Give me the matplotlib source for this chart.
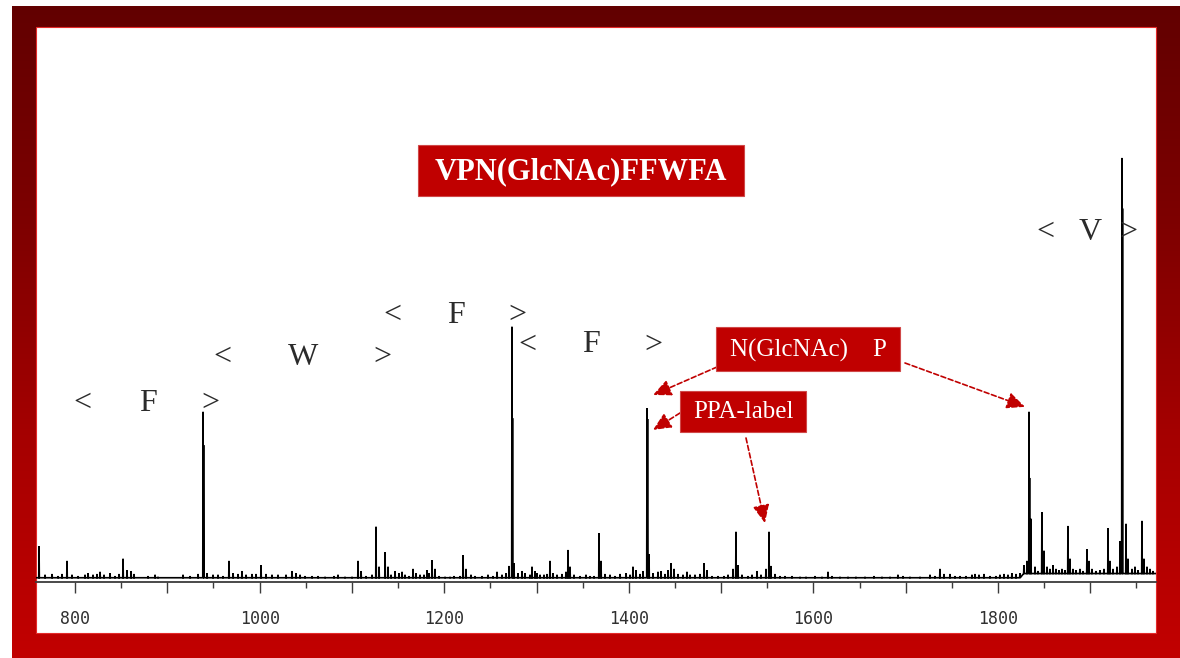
import numpy as np
import matplotlib
matplotlib.use("Agg")
import matplotlib.pyplot as plt
from matplotlib.patches import Rectangle
from matplotlib.colors import LinearSegmentedColormap
from matplotlib.ticker import MultipleLocator, FuncFormatter

# ---------------------------------------------------------------- data
# MALDI spectrum of the PPA-labelled glycopeptide: m/z and relative intensity (%)
peak_mz = [
    761.0, 767.5, 775.1, 781.6, 785.9, 791.3, 796.7, 803.3, 810.8, 814.1,
    819.5, 823.8, 827.1, 831.4, 837.9, 843.3, 847.7, 852.0, 856.3, 860.7,
    863.9, 879.1, 886.7, 889.9, 917.0, 924.6, 933.3, 938.7, 939.3, 943.0,
    949.5, 954.9, 960.3, 966.8, 971.2, 976.6, 980.9, 985.3, 991.8, 996.1,
    1001.5, 1006.9, 1013.4, 1019.9, 1028.6, 1035.1, 1039.4, 1043.8, 1049.2, 1056.8,
    1063.3, 1070.9,
    1080.6, 1084.9, 1092.5, 1100.1, 1106.6, 1109.9, 1115.3, 1121.8, 1126.1, 1129.4,
    1135.9, 1139.1, 1142.4, 1146.7, 1151.0, 1154.3, 1157.5, 1161.9, 1166.2, 1169.4,
    1173.8, 1178.1, 1181.4, 1183.5, 1186.8, 1190.0, 1194.4, 1200.9, 1206.3, 1210.6,
    1217.1, 1220.4, 1223.6, 1229.0, 1233.4, 1240.9, 1247.4, 1252.9, 1257.2, 1262.6,
    1266.9, 1270.2, 1273.4, 1274.0, 1275.6, 1279.9, 1284.3, 1287.5, 1292.9, 1295.1,
    1298.4, 1300.5, 1303.8, 1308.1, 1311.4, 1314.6, 1317.9, 1322.2, 1327.6, 1331.9,
    1334.1, 1336.3, 1340.6, 1347.1, 1353.6, 1357.9, 1362.3, 1367.7, 1369.9, 1374.2,
    1379.6, 1385.0, 1390.5, 1397.0,
    1401.3, 1404.5, 1407.8, 1412.1, 1415.4, 1419.7, 1420.3, 1421.9, 1426.2, 1431.6,
    1434.9, 1439.2, 1442.5, 1445.7, 1449.0, 1453.3, 1458.7, 1463.0, 1466.3, 1471.7,
    1477.1, 1481.5, 1484.7, 1490.1, 1496.6, 1503.1, 1507.5, 1512.9, 1516.1, 1518.3,
    1522.6, 1529.1, 1533.5, 1538.9, 1543.2, 1548.6, 1551.9, 1554.0, 1558.4, 1563.8,
    1569.2, 1576.8, 1585.5, 1592.0, 1601.7, 1609.3, 1615.8, 1620.1, 1628.8, 1637.5,
    1646.1, 1655.9, 1665.6, 1674.3, 1683.0, 1691.6, 1697.1, 1704.6, 1715.5, 1726.3,
    1731.7, 1737.1, 1741.5, 1748.0, 1753.4, 1758.8, 1765.3, 1771.8, 1775.1, 1779.4,
    1784.8, 1791.3, 1797.8, 1802.1, 1806.5, 1810.8, 1815.1, 1819.5, 1823.8,
    1828.1, 1831.4, 1833.6, 1834.2, 1835.7, 1840.1, 1843.3, 1847.6, 1849.8, 1853.1,
    1856.3, 1859.6, 1862.8, 1866.1, 1869.3, 1872.6, 1875.8, 1878.0, 1881.2, 1884.5,
    1888.8, 1892.1, 1896.4, 1898.6, 1901.8, 1906.1, 1910.5, 1914.8, 1919.2, 1921.3,
    1924.6, 1928.9, 1932.2, 1934.3, 1934.9, 1938.7, 1940.8, 1945.2, 1948.4, 1951.7,
    1956.0, 1958.1, 1961.4, 1964.7, 1967.9,
]
peak_int = [
    7.8, 1.0, 1.2, 0.7, 1.2, 4.3, 1.0, 0.7, 1.0, 1.4,
    1.0, 1.2, 1.7, 1.0, 1.4, 0.7, 1.2, 4.8, 2.1, 1.9,
    1.2, 0.7, 1.0, 0.5, 1.0, 0.7, 1.2, 39.7, 31.8, 1.4,
    1.0, 1.0, 0.7, 4.3, 1.4, 1.2, 1.9, 1.0, 1.2, 1.2,
    3.3, 1.2, 1.0, 1.0, 1.0, 1.9, 1.4, 1.0, 0.7, 0.7,
    0.7, 0.5,
    0.7, 1.0, 0.5, 0.5, 4.3, 1.9, 0.7, 1.0, 12.4, 2.9,
    6.4, 2.9, 1.0, 1.9, 1.4, 1.7, 1.0, 0.7, 2.4, 1.4,
    1.0, 1.0, 2.1, 1.4, 4.5, 2.4, 0.7, 0.5, 0.5, 0.7,
    0.7, 5.7, 2.4, 1.0, 0.7, 0.7, 1.0, 0.7, 1.7, 1.0,
    1.4, 3.1, 59.9, 38.2, 3.8, 1.4, 1.9, 1.4, 1.0, 2.9,
    1.9, 1.4, 1.0, 1.0, 1.2, 4.3, 1.4, 1.0, 1.2, 1.7,
    6.9, 2.9, 1.0, 0.7, 1.0, 0.7, 0.7, 10.9, 4.3, 1.2,
    1.0, 0.7, 1.2, 1.4,
    1.0, 2.9, 2.1, 1.2, 1.9, 40.6, 38.0, 5.9, 1.4, 1.7,
    1.9, 1.2, 2.1, 3.8, 2.4, 1.2, 1.0, 1.7, 1.0, 1.0,
    1.2, 3.8, 2.1, 0.7, 0.7, 0.7, 1.0, 2.4, 11.2, 3.3,
    1.0, 0.7, 1.0, 1.9, 1.0, 2.4, 11.2, 3.1, 1.2, 0.7,
    0.7, 0.7, 0.5, 0.5, 0.7, 0.5, 1.7, 0.7, 0.5, 0.5,
    0.5, 0.5, 0.7, 0.5, 0.5, 1.0, 0.7, 0.5, 0.5, 1.0,
    0.7, 2.4, 1.2, 1.2, 0.7, 0.7, 0.7, 1.0, 1.2, 1.0,
    1.2, 0.7, 0.7, 1.0, 1.2, 1.0, 1.4, 1.2, 1.4,
    3.3, 4.3, 39.7, 24.0, 14.3, 2.9, 1.9, 15.9, 6.7, 2.9,
    2.4, 3.3, 2.4, 2.1, 2.4, 2.1, 12.6, 4.8, 2.4, 2.1,
    2.4, 1.9, 7.1, 4.3, 2.4, 1.9, 2.1, 2.4, 12.1, 4.3,
    2.4, 2.9, 9.0, 100.0, 88.0, 13.1, 4.8, 2.4, 2.9, 2.1,
    13.8, 4.8, 2.9, 2.4, 1.9,
]

# chemical-noise baseline: level (%) on each m/z segment
baseline_edges = [757.7, 1825.0, 1971.2]
baseline_levels = [0.3, 1.3]

# labelled ticks on the m/z axis
tick_labels_mz = [800, 1000, 1200, 1400, 1600, 1800]

# residue ladder marks between fragment peaks
residue_text = ['<', 'F', '>', '<', 'W', '>', '<', 'F', '>',
                '<', 'F', '>', '<', 'V', '>']
residue_mz = [807.6, 879.1, 946.3, 959.3, 1047.0, 1132.6, 1143.4, 1212.8, 1278.9,
              1289.7, 1359.0, 1426.2, 1850.9, 1899.7, 1940.8]
residue_int = [41.6, 41.6, 41.6, 52.7, 52.7, 52.7, 62.5, 62.5, 62.5,
               55.6, 55.6, 55.6, 82.4, 82.4, 82.4]

# annotated peaks (m/z, intensity at the arrow tip)
arrow_mz = [1426.2, 1426.2, 1829.2, 1547.5]
arrow_int = [43.7, 35.4, 40.9, 13.3]

title_text = 'VPN(GlcNAc)FFWFA'
fragment_text = 'N(GlcNAc)    P'
label_text = 'PPA-label'

# ---------------------------------------------------------------- figure
W, H = 1180, 658
RED = '#c00000'
fig = plt.figure(figsize=(W / 100, H / 100), dpi=100)
fig.patch.set_facecolor('white')

# gradient frame behind the white panel
bg = fig.add_axes([0, 0, 1, 1], zorder=0)
bg.set_xlim(0, W)
bg.set_ylim(H, 0)
bg.axis('off')
frame_cmap = LinearSegmentedColormap.from_list(
    'frame', ['#620000', '#7e0000', '#a60000', '#c20000'])
bg.imshow(np.linspace(0, 1, 256)[:, None], aspect='auto', cmap=frame_cmap,
          extent=(12, W, H, 6), interpolation='bilinear')
bg.add_patch(Rectangle((36, 27), 1120, 606, facecolor='white',
                       edgecolor='#e42a2a', lw=0.8))

# spectrum axes
ax = fig.add_axes([36 / W, 76 / H, 1120 / W, 555 / H], zorder=1)
ax.patch.set_alpha(0)
ax.set_xlim(757.7, 1971.2)
ax.set_ylim(-0.71, 131.1)
for side in ('top', 'left', 'right'):
    ax.spines[side].set_visible(False)
ax.spines['bottom'].set_color('#3c3c3c')
ax.spines['bottom'].set_linewidth(1.3)
ax.set_yticks([])
ax.xaxis.set_major_locator(MultipleLocator(100))
ax.xaxis.set_minor_locator(MultipleLocator(50))
ax.xaxis.set_major_formatter(FuncFormatter(
    lambda v, _: f'{int(round(v))}' if int(round(v)) in tick_labels_mz else ''))
ax.tick_params(axis='x', which='major', length=8, width=1.0, color='#3c3c3c',
               pad=12, labelsize=12, labelcolor='#303030',
               labelfontfamily='DejaVu Sans Mono')
ax.tick_params(axis='x', which='minor', length=4, width=1.0, color='#3c3c3c')

# stick profile: each peak rises from the local baseline and returns to it
mz = np.asarray(peak_mz)
inten = np.asarray(peak_int)
order = np.argsort(mz, kind='stable')
mz, inten = mz[order], inten[order]
seg = np.clip(np.searchsorted(baseline_edges, mz, side='right') - 1,
              0, len(baseline_levels) - 1)
base = np.asarray(baseline_levels)[seg]
half = 0.3
px = np.column_stack([mz - half, mz, mz + half]).ravel()
py = np.column_stack([base, inten, base]).ravel()
px = np.concatenate([[baseline_edges[0]], px, [baseline_edges[-1]]])
py = np.concatenate([[baseline_levels[0]], py, [baseline_levels[-1]]])
ax.plot(px, py, color='black', lw=1.2, solid_joinstyle='miter', zorder=2)

# residue ladder
for t, x, y in zip(residue_text, residue_mz, residue_int):
    ax.text(x, y, t, ha='center', va='center', fontsize=23,
            family='Liberation Serif', color='#2b2b2b', zorder=3)

# dashed red arrows from the callouts to their peaks (tails in figure pixels)
arrow_tails = [(717, H - 367), (680, H - 413), (905, H - 363), (746, H - 438)]
for x, y, tail in zip(arrow_mz, arrow_int, arrow_tails):
    ax.annotate('', xy=(x, y), xycoords='data', xytext=tail,
                textcoords='figure pixels', annotation_clip=False,
                arrowprops=dict(arrowstyle='-|>,head_length=1.1,head_width=0.5',
                                mutation_scale=10, color=RED, lw=1.2,
                                linestyle=(0, (3, 1.6)), shrinkA=0, shrinkB=0))

# red callout boxes
top = fig.add_axes([0, 0, 1, 1], zorder=3)
top.set_xlim(0, W)
top.set_ylim(H, 0)
top.axis('off')
top.patch.set_alpha(0)
callouts = [
    (title_text, (418, 145, 326, 51), 22, 'bold'),
    (fragment_text, (716, 327, 184, 44), 18, 'normal'),
    (label_text, (680, 391, 126, 41), 18, 'normal'),
]
for text, (x0, y0, w, h), size, weight in callouts:
    top.add_patch(Rectangle((x0, y0), w, h, facecolor=RED,
                            edgecolor='#d04848', lw=0.8))
    top.text(x0 + w / 2, y0 + h / 2 + 1, text, ha='center', va='center',
             fontsize=size, fontweight=weight, family='Liberation Serif',
             color='white')

fig.savefig('out.png', dpi=100)
